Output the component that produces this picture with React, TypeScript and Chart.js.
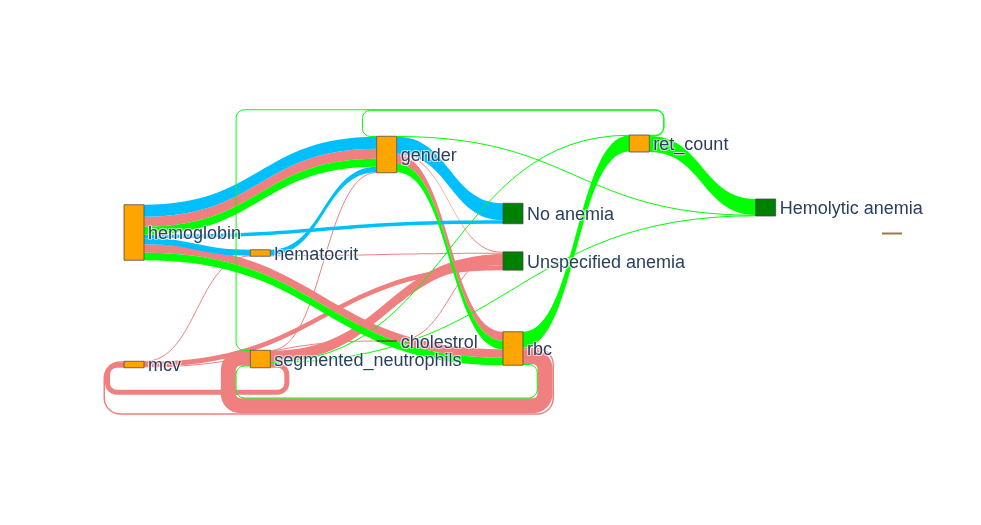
import React, { useEffect, useRef } from 'react';
import { Chart, registerables } from 'chart.js';

Chart.register(...registerables);

// ---------- data ----------
const nodeLabels = [
  'hemoglobin', 'hematocrit', 'mcv', 'gender', 'segmented_neutrophils', 'cholestrol',
  'rbc', 'ret_count', 'No anemia', 'Unspecified anemia', 'Hemolytic anemia', '',
];
const nodeColumn = [0, 1, 0, 2, 1, 2, 3, 4, 3, 3, 5, 6];
const nodeCenter = [122.5, 143, 254.5, 44.5, 249, 231, 238.5, 33.5, 103.5, 151, 97.5, 123.5];
const nodeIsOutcome = [0, 0, 0, 0, 0, 0, 0, 0, 1, 1, 1, 0];

// link classes: 0 = No anemia, 1 = Unspecified anemia, 2 = Hemolytic anemia
const linkSource = [7, 0, 0, 0, 3, 3, 0, 0, 1, 3, 1, 2, 5, 4, 4, 2, 2, 3, 3, 0, 0, 4, 4, 6, 7, 7, 6, 6, 6, 4];
const linkTarget = [10, 3, 3, 3, 10, 8, 8, 1, 3, 9, 9, 1, 9, 3, 9, 9, 5, 6, 6, 6, 6, 7, 10, 7, 3, 4, 4, 4, 2, 2];
const linkValue = [16, 12, 10, 8, 0.5, 17, 3.5, 6, 5.5, 1, 1, 0.5, 0.3, 0.5, 11, 5, 0.3, 9, 8.5, 8.5, 7.5, 0.5, 0.5, 16, 0.5, 0.5, 15, 0.5, 1.5, 5];
const linkClass = [2, 0, 1, 2, 2, 0, 0, 0, 0, 1, 1, 1, 1, 1, 1, 1, 1, 1, 2, 1, 2, 2, 2, 2, 2, 2, 1, 2, 1, 1];

// ---------- styles / layout constants ----------
const CLASS_COLORS = ['#00BFFF', '#F08080', '#00FF00'];
const CLASS_DRAW_ORDER = [1, 0, 2];
const FEATURE_COLOR = '#FFA500';
const OUTCOME_COLOR = '#008000';
const NODE_BORDER = 'rgba(68,68,68,0.75)';
const NODE_W = 20;
const LEG_GAP = 14;
const BOTTOM_GAP = 22;
const TOP_GAP = 24.5;
const LOOP_GAP = 3;
const R_BASE = 8;
const FONT = '18px "Liberation Sans", Arial, sans-serif';
const TEXT_COLOR = '#2a3f5f';

const sankeyPlugin = {
  id: 'sankeyDraw',
  afterDatasetsDraw(chart: any) {
    const ctx: CanvasRenderingContext2D = chart.ctx;
    const xs = chart.scales.x;
    const ys = chart.scales.y;
    const th = (v: number) => Math.abs(ys.getPixelForValue(v) - ys.getPixelForValue(0));
    const N = nodeLabels.length;
    const L = linkSource.length;

    const inSum = new Array(N).fill(0);
    const outSum = new Array(N).fill(0);
    for (let i = 0; i < L; i++) {
      outSum[linkSource[i]] += linkValue[i];
      inSum[linkTarget[i]] += linkValue[i];
    }
    const cx = nodeColumn.map((c) => xs.getPixelForValue(c));
    const cy = nodeCenter.map((c) => ys.getPixelForValue(c));
    const nh = inSum.map((v, i) => th(Math.max(v, outSum[i])));
    const top = cy.map((y, i) => y - nh[i] / 2);
    const bottom = cy.map((y, i) => y + nh[i] / 2);
    const left = cx.map((x) => x - NODE_W / 2);
    const right = cx.map((x) => x + NODE_W / 2);
    const w = linkValue.map(th);

    const isCirc = (i: number) => nodeColumn[linkTarget[i]] <= nodeColumn[linkSource[i]];
    const mid = (Math.min(...top) + Math.max(...bottom)) / 2;
    const srcType: Record<number, string> = {};
    const ltype: string[] = new Array(L).fill('');
    for (let i = 0; i < L; i++) {
      if (!isCirc(i)) continue;
      const s = linkSource[i];
      const t = linkTarget[i];
      let type = srcType[s];
      if (!type) type = (cy[s] + cy[t]) / 2 < mid ? 'top' : 'bottom';
      srcType[s] = type;
      ltype[i] = type;
    }
    const circ = [] as number[];
    for (let i = 0; i < L; i++) if (isCirc(i)) circ.push(i);
    circ.sort((a, b) => {
      const sa = nodeColumn[linkSource[a]] - nodeColumn[linkTarget[a]];
      const sb = nodeColumn[linkSource[b]] - nodeColumn[linkTarget[b]];
      if (sa !== sb) return sa - sb;
      if (linkValue[a] !== linkValue[b]) return linkValue[a] - linkValue[b];
      return a - b;
    });
    const revCirc = circ.slice().reverse();

    // stacking inside nodes
    const y0 = new Array(L).fill(0);
    const y1 = new Array(L).fill(0);
    for (let n = 0; n < N; n++) {
      const outs: number[] = [];
      circ.forEach((i) => { if (ltype[i] === 'top' && linkSource[i] === n) outs.push(i); });
      for (let i = 0; i < L; i++) if (!isCirc(i) && linkSource[i] === n) outs.push(i);
      revCirc.forEach((i) => { if (ltype[i] === 'bottom' && linkSource[i] === n) outs.push(i); });
      let acc = top[n];
      outs.forEach((i) => { y0[i] = acc; acc += w[i]; });

      const ins: number[] = [];
      circ.forEach((i) => { if (ltype[i] === 'top' && linkTarget[i] === n) ins.push(i); });
      for (let i = 0; i < L; i++) if (!isCirc(i) && linkTarget[i] === n) ins.push(i);
      revCirc.forEach((i) => { if (ltype[i] === 'bottom' && linkTarget[i] === n) ins.push(i); });
      acc = top[n];
      ins.forEach((i) => { y1[i] = acc; acc += w[i]; });
    }

    // circular geometry
    const legAcc: Record<string, number> = {};
    const placed: any[] = [];
    const geo: Record<number, any> = {};
    circ.forEach((i) => {
      const s = linkSource[i];
      const t = linkTarget[i];
      const wi = w[i];
      const type = ltype[i];
      const kR = type + 'R' + s;
      const accR = legAcc[kR] ?? LEG_GAP;
      const legR = right[s] + accR + wi / 2;
      legAcc[kR] = accR + wi;
      const kL = type + 'L' + t;
      const accL = legAcc[kL] ?? LEG_GAP;
      const legL = left[t] - accL - wi / 2;
      legAcc[kL] = accL + wi;
      const xa = legL - wi / 2;
      const xb = legR + wi / 2;
      let inner: number;
      let ext: number;
      let outer: number;
      if (type === 'bottom') {
        inner = Math.max(bottom[s], bottom[t]) + BOTTOM_GAP;
        placed.forEach((p) => {
          if (p.type === type && p.xb > xa && p.xa < xb) inner = Math.max(inner, p.outer + (p.s === s ? 0 : LOOP_GAP));
        });
        ext = inner + wi / 2;
        outer = inner + wi;
      } else {
        inner = Math.min(top[s], top[t]) - TOP_GAP;
        placed.forEach((p) => {
          if (p.type === type && p.xb > xa && p.xa < xb) inner = Math.min(inner, p.outer - (p.s === s ? 0 : LOOP_GAP));
        });
        ext = inner - wi / 2;
        outer = inner - wi;
      }
      const r = R_BASE + (accR - LEG_GAP + wi / 2) / 2;
      placed.push({ type, s, xa, xb, outer });
      geo[i] = { legR, legL, ext, r };
    });

    // draw links
    ctx.save();
    CLASS_DRAW_ORDER.forEach((cls) => {
      for (let i = 0; i < L; i++) {
        if (linkClass[i] !== cls) continue;
        const s = linkSource[i];
        const t = linkTarget[i];
        const color = CLASS_COLORS[cls];
        if (!isCirc(i)) {
          const x0 = right[s];
          const x1 = left[t];
          const xm = (x0 + x1) / 2;
          if (w[i] < 1) {
            const a = y0[i] + w[i] / 2;
            const b = y1[i] + w[i] / 2;
            ctx.beginPath();
            ctx.moveTo(x0, a);
            ctx.bezierCurveTo(xm, a, xm, b, x1, b);
            ctx.strokeStyle = color;
            ctx.lineWidth = 1;
            ctx.stroke();
          } else {
            ctx.beginPath();
            ctx.moveTo(x0, y0[i]);
            ctx.bezierCurveTo(xm, y0[i], xm, y1[i], x1, y1[i]);
            ctx.lineTo(x1, y1[i] + w[i]);
            ctx.bezierCurveTo(xm, y1[i] + w[i], xm, y0[i] + w[i], x0, y0[i] + w[i]);
            ctx.closePath();
            ctx.fillStyle = color;
            ctx.fill();
          }
        } else {
          const g = geo[i];
          const yS = y0[i] + w[i] / 2;
          const yT = y1[i] + w[i] / 2;
          const r = Math.max(1, Math.min(g.r, g.legR - right[s], left[t] - g.legL,
            Math.abs(g.ext - yS) / 2, Math.abs(g.ext - yT) / 2));
          ctx.beginPath();
          ctx.moveTo(right[s], yS);
          ctx.arcTo(g.legR, yS, g.legR, g.ext, r);
          ctx.arcTo(g.legR, g.ext, g.legL, g.ext, r);
          ctx.arcTo(g.legL, g.ext, g.legL, yT, r);
          ctx.arcTo(g.legL, yT, left[t], yT, r);
          ctx.lineTo(left[t], yT);
          ctx.strokeStyle = color;
          ctx.lineWidth = Math.max(1, w[i]);
          ctx.lineCap = 'butt';
          ctx.lineJoin = 'round';
          ctx.stroke();
        }
      }
    });

    // draw nodes
    for (let n = 0; n < N; n++) {
      const fill = nodeIsOutcome[n] ? OUTCOME_COLOR : FEATURE_COLOR;
      if (nh[n] === 0) {
        ctx.fillStyle = '#9c7a3c';
        ctx.fillRect(left[n], cy[n] - 1, NODE_W, 2);
        continue;
      }
      ctx.fillStyle = fill;
      ctx.fillRect(left[n], top[n], NODE_W, nh[n]);
      ctx.strokeStyle = NODE_BORDER;
      ctx.lineWidth = 1;
      ctx.strokeRect(left[n], top[n], NODE_W, nh[n]);
    }

    // labels
    ctx.font = FONT;
    ctx.textBaseline = 'middle';
    ctx.textAlign = 'left';
    for (let n = 0; n < N; n++) {
      if (!nodeLabels[n]) continue;
      const x = right[n] + 4;
      const y = cy[n] + 2;
      ctx.fillStyle = 'rgba(255,255,255,0.55)';
      [[1, 1], [-1, -1], [1, -1], [-1, 1]].forEach(([dx, dy]) => ctx.fillText(nodeLabels[n], x + dx, y + dy));
      ctx.fillStyle = TEXT_COLOR;
      ctx.fillText(nodeLabels[n], x, y);
    }
    ctx.restore();
  },
};

export default function App() {
  const ref = useRef<HTMLCanvasElement>(null);
  useEffect(() => {
    const chart = new Chart(ref.current as HTMLCanvasElement, {
      type: 'scatter',
      data: {
        datasets: [
          {
            data: nodeColumn.map((c, i) => ({ x: c, y: nodeCenter[i] })),
            pointRadius: 0,
            showLine: false,
          },
        ],
      },
      options: {
        responsive: false,
        animation: false,
        events: [],
        layout: { padding: { left: 134, right: 89, top: 110, bottom: 115 } },
        scales: {
          x: { type: 'linear', min: 0, max: 6, display: false },
          y: { type: 'linear', min: 0, max: 300, reverse: true, display: false },
        },
        plugins: { legend: { display: false }, tooltip: { enabled: false } },
      },
      plugins: [sankeyPlugin],
    } as any);
    return () => chart.destroy();
  }, []);
  return (
    <div style={{ position: 'fixed', left: 0, top: 0, width: 981, height: 525, background: '#ffffff' }}>
      <canvas ref={ref} width={981} height={525} style={{ display: 'block', width: 981, height: 525 }} />
    </div>
  );
}
